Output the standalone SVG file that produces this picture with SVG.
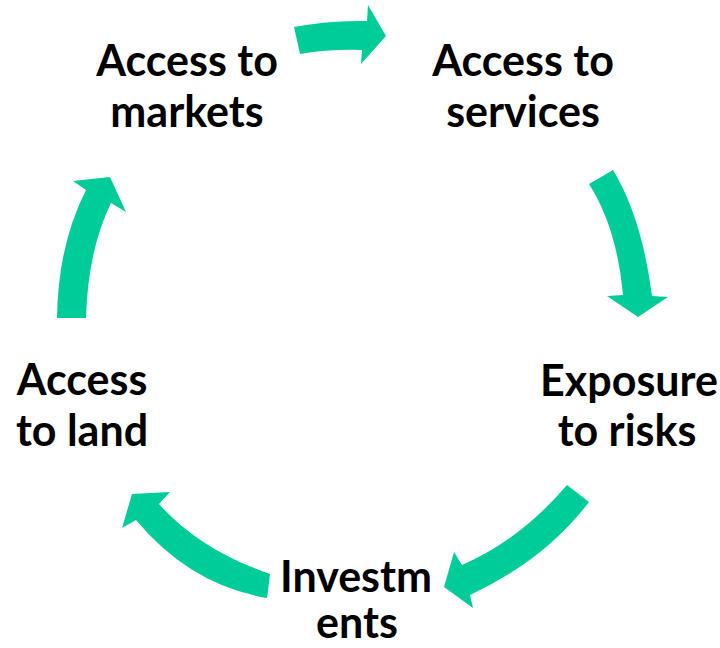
<svg xmlns="http://www.w3.org/2000/svg" width="720" height="648" viewBox="0 0 720 648">
<style>
.lbl{font-family:Lato,"Open Sans","Liberation Sans",sans-serif;font-weight:bold;font-size:43px;fill:#000;text-anchor:middle}
.arr{fill:#00CC99;stroke:none}
</style>
<rect width="720" height="648" fill="#fff"/>
<g id="connectors">
<path class="arr" d="M294,27 Q330,20 367,21 L368,5 L386,36 L361,64 L362,50 Q330,49 300,54 Z"/>
<path class="arr" d="M589,184 Q617,228 623,295 L607,296 L638,317 L668,297 L652,296 Q642,218 613,170 Z"/>
<path class="arr" d="M567,485 Q520,540 462,565 L454,552 L444,587 L473,608 L470,595 Q545,560 589,502 Z"/>
<path class="arr" d="M270,574 Q200,550 159,504 L170,492 L132,494 L122,528 L136,520 Q190,585 267,598 Z"/>
<path class="arr" d="M57,318 Q58,245 86,190 L73,181 L110,177 L126,212 L111,203 Q88,250 86,318 Z"/>
</g>
<g id="markets"><text class="lbl" x="187" y="76">Access to</text><text class="lbl" x="187" y="127">markets</text></g>
<g id="services"><text class="lbl" x="523" y="76">Access to</text><text class="lbl" x="523" y="127">services</text></g>
<g id="risks"><text class="lbl" x="629" y="396">Exposure</text><text class="lbl" x="627" y="446">to risks</text></g>
<g id="investments"><text class="lbl" x="356" y="592">Investm</text><text class="lbl" x="357" y="638">ents</text></g>
<g id="land"><text class="lbl" x="82" y="395">Access</text><text class="lbl" x="82" y="446">to land</text></g>
</svg>
